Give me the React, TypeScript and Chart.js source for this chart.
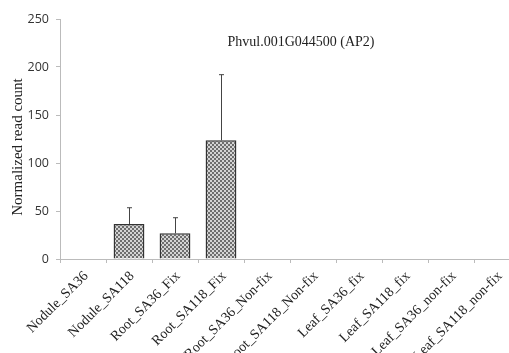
import React, { useEffect, useRef } from "react";
import { Chart, registerables } from "chart.js";

Chart.register(...registerables);

const categories = [
  "Nodule_SA36",
  "Nodule_SA118",
  "Root_SA36_Fix",
  "Root_SA118_Fix",
  "Root_SA36_Non-fix",
  "Root_SA118_Non-fix",
  "Leaf_SA36_fix",
  "Leaf_SA118_fix",
  "Leaf_SA36_non-fix",
  "Leaf_SA118_non-fix",
];
const values = [0, 36.5, 26.7, 123.6, 0, 0, 0, 0, 0, 0];
const errors = [0, 16.9, 16.3, 68.4, 0, 0, 0, 0, 0, 0];
const yTicks = [0, 50, 100, 150, 200, 250];
const chartTitle = "Phvul.001G044500 (AP2)";
const yTitle = "Normalized read count";

function makePattern(): CanvasPattern | string {
  const c = document.createElement("canvas");
  c.width = 4;
  c.height = 4;
  const g = c.getContext("2d");
  if (!g) return "#999";
  g.fillStyle = "#d4d4d4";
  g.fillRect(0, 0, 4, 4);
  g.fillStyle = "#6e6e6e";
  g.fillRect(0, 0, 2, 2);
  g.fillRect(2, 2, 2, 2);
  const p = g.createPattern(c, "repeat");
  return p || "#999";
}

const errorBarPlugin = {
  id: "errorBars",
  afterDatasetsDraw(chart: any) {
    const ctx = chart.ctx;
    const meta = chart.getDatasetMeta(0);
    const y = chart.scales.y;
    ctx.save();
    ctx.strokeStyle = "#444";
    ctx.lineWidth = 1;
    meta.data.forEach((el: any, i: number) => {
      const e = errors[i];
      if (!e) return;
      const x = Math.round(el.x) + 0.5;
      const top = y.getPixelForValue(values[i] + e);
      ctx.beginPath();
      ctx.moveTo(x, el.y);
      ctx.lineTo(x, top);
      ctx.moveTo(x - 2.5, top);
      ctx.lineTo(x + 2.5, top);
      ctx.stroke();
    });
    ctx.restore();
  },
};

const textPlugin = {
  id: "texts",
  afterDraw(chart: any) {
    const ctx = chart.ctx;
    ctx.save();
    ctx.fillStyle = "#222";
    ctx.font = '14px "Liberation Serif", serif';
    ctx.textAlign = "center";
    ctx.textBaseline = "middle";
    ctx.fillText(chartTitle, 301, 42);
    ctx.translate(18, 147);
    ctx.rotate(-Math.PI / 2);
    ctx.font = '15px "Liberation Serif", serif';
    ctx.fillText(yTitle, 0, 0);
    ctx.restore();
  },
};

export default function App() {
  const ref = useRef<HTMLCanvasElement>(null);
  useEffect(() => {
    if (!ref.current) return;
    const chart = new Chart(ref.current, {
      type: "bar",
      data: {
        labels: categories,
        datasets: [
          {
            data: values,
            backgroundColor: makePattern() as any,
            borderColor: "#333",
            borderWidth: 1.5,
            categoryPercentage: 1,
            barPercentage: 0.67,
          },
        ],
      },
      options: {
        animation: false,
        responsive: false,
        layout: { padding: { top: 19, right: 10, left: 0, bottom: 0 } },
        plugins: {
          legend: { display: false },
          tooltip: { enabled: false },
          title: { display: false },
        },
        scales: {
          x: {
            afterFit(scale: any) {
              scale.height = 94;
            },
            grid: {
              drawOnChartArea: false,
              drawTicks: true,
              tickLength: 4,
              color: "#bbb",
              offset: true,
            },
            border: { color: "#bbb", width: 1 },
            ticks: {
              autoSkip: false,
              maxRotation: 45,
              minRotation: 45,
              padding: 5,
              labelOffset: 3,
              color: "#222",
              font: { family: '"Liberation Serif", serif', size: 14 },
            },
          },
          y: {
            min: 0,
            max: 250,
            afterFit(scale: any) {
              scale.width = 60;
            },
            afterBuildTicks(scale: any) {
              scale.ticks = yTicks.map((v) => ({ value: v }));
            },
            grid: {
              drawOnChartArea: false,
              drawTicks: true,
              tickLength: 4,
              color: "#bbb",
            },
            border: { color: "#bbb", width: 1 },
            ticks: {
              padding: 7,
              color: "#333",
              font: { family: '"Open Sans", sans-serif', size: 12.5 },
            },
          },
        },
      },
      plugins: [errorBarPlugin, textPlugin],
    });
    return () => chart.destroy();
  }, []);
  return (
    <div
      style={{
        position: "fixed",
        left: 0,
        top: 0,
        width: 509,
        height: 353,
        overflow: "hidden",
        background: "#fff",
      }}
    >
      <canvas
        ref={ref}
        width={530}
        height={353}
        style={{ width: 530, height: 353, display: "block" }}
      />
    </div>
  );
}
